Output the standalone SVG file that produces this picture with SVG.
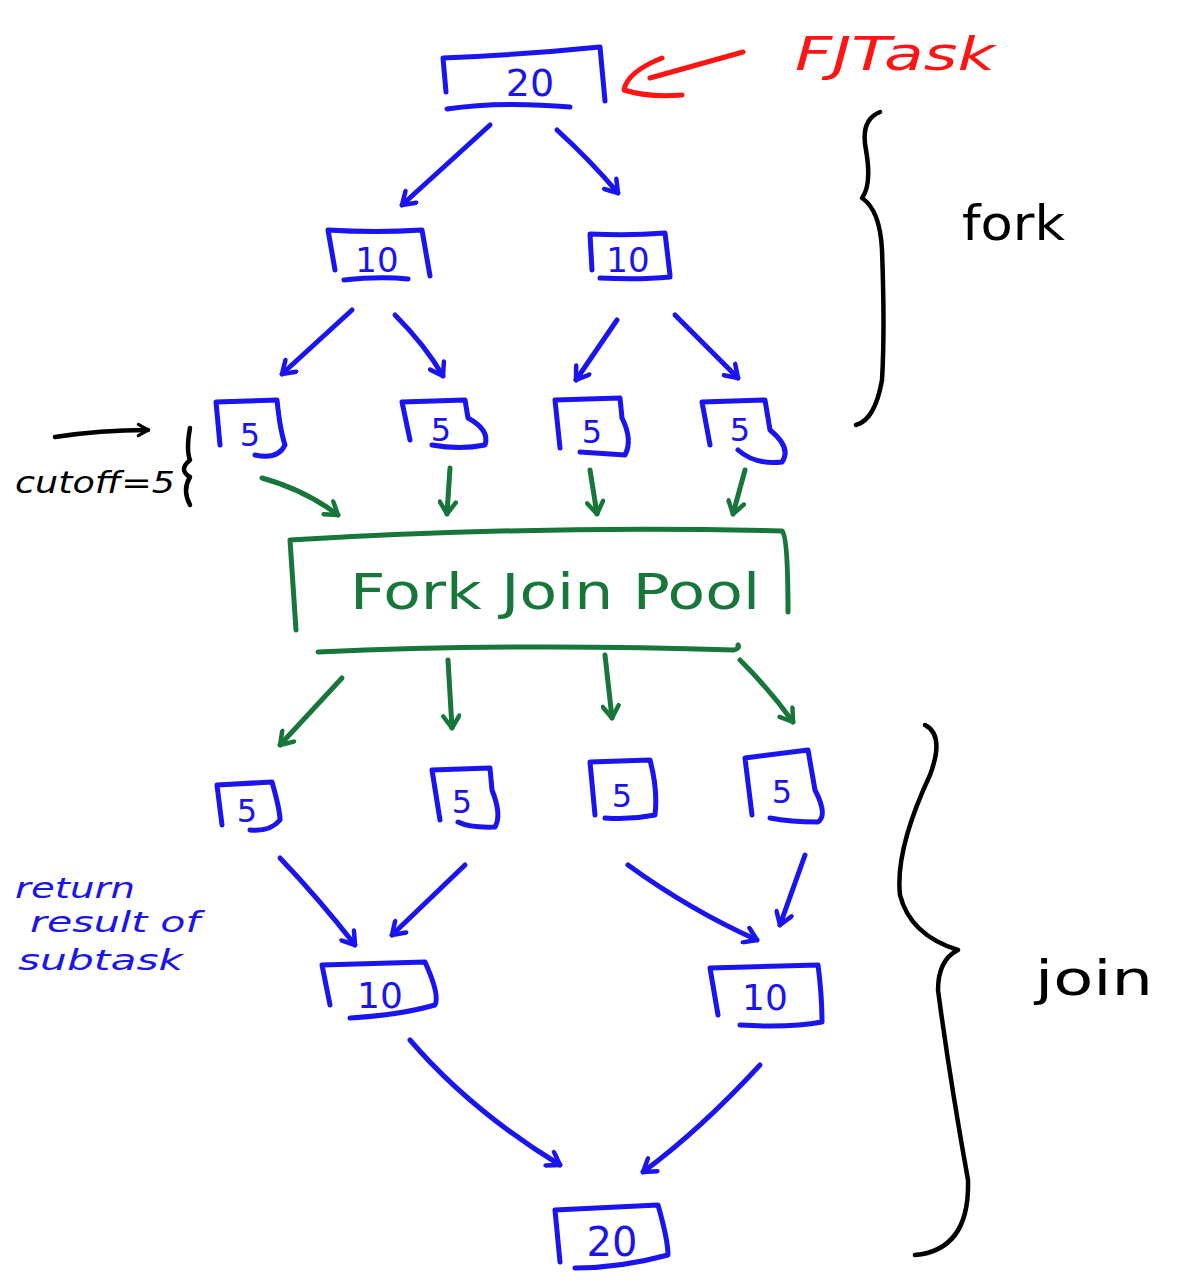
<svg xmlns="http://www.w3.org/2000/svg" width="1179" height="1283" viewBox="0 0 1179 1283">
  <style>
    .pen { fill: none; stroke-linecap: round; stroke-linejoin: round; }
    .blue { stroke: #1a14f0; stroke-width: 5; }
    .green { stroke: #17763a; stroke-width: 5; }
    .red { stroke: #ff1414; stroke-width: 5; }
    .black { stroke: #000; stroke-width: 4.5; }
    .hand { font-family: "DejaVu Sans", "Liberation Sans", sans-serif; }
    .tb { fill: #1a14f0; }
    .tg { fill: #17763a; }
    .tr { fill: #ff1414; }
    .tk { fill: #000; }
  </style>
  <defs>
    <marker id="hb" viewBox="0 0 20 20" refX="16" refY="10" markerWidth="20" markerHeight="20" markerUnits="userSpaceOnUse" orient="auto">
      <path d="M4,2 L16,10 L4,18" fill="none" stroke="#1a14f0" stroke-width="4.5" stroke-linecap="round" stroke-linejoin="round"/>
    </marker>
    <marker id="hg" viewBox="0 0 20 20" refX="16" refY="10" markerWidth="20" markerHeight="20" markerUnits="userSpaceOnUse" orient="auto">
      <path d="M4,2 L16,10 L4,18" fill="none" stroke="#17763a" stroke-width="4.5" stroke-linecap="round" stroke-linejoin="round"/>
    </marker>
    <marker id="hk" viewBox="0 0 20 20" refX="16" refY="10" markerWidth="16" markerHeight="16" markerUnits="userSpaceOnUse" orient="auto">
      <path d="M4,3 L16,10 L4,17" fill="none" stroke="#000" stroke-width="4" stroke-linecap="round" stroke-linejoin="round"/>
    </marker>
  </defs>

  <!-- connectors -->
  <g id="connectors" class="pen">
    <!-- fork: 20 -> 10, 10 -->
    <path class="blue" d="M490,125 L402,205" stroke-width="6" marker-end="url(#hb)"/>
    <path class="blue" d="M557,130 Q590,160 618,193" marker-end="url(#hb)"/>
    <!-- 10 -> 5, 5 -->
    <path class="blue" d="M352,310 L282,374" marker-end="url(#hb)"/>
    <path class="blue" d="M395,315 Q425,345 443,376" marker-end="url(#hb)"/>
    <path class="blue" d="M617,320 L576,380" marker-end="url(#hb)"/>
    <path class="blue" d="M675,315 Q710,350 738,378" marker-end="url(#hb)"/>
    <!-- 5s -> pool -->
    <path class="green" d="M262,478 Q305,490 338,515" marker-end="url(#hg)"/>
    <path class="green" d="M450,468 L447,514" marker-end="url(#hg)"/>
    <path class="green" d="M590,470 L597,514" marker-end="url(#hg)"/>
    <path class="green" d="M745,470 L733,514" marker-end="url(#hg)"/>
    <!-- pool -> 5s -->
    <path class="green" d="M342,678 L280,745" marker-end="url(#hg)"/>
    <path class="green" d="M448,660 L452,728" marker-end="url(#hg)"/>
    <path class="green" d="M605,655 L612,718" marker-end="url(#hg)"/>
    <path class="green" d="M740,660 Q770,690 793,722" marker-end="url(#hg)"/>
    <!-- join: 5s -> 10s -->
    <path class="blue" d="M280,858 Q320,900 355,945" marker-end="url(#hb)"/>
    <path class="blue" d="M465,865 L392,935" marker-end="url(#hb)"/>
    <path class="blue" d="M628,865 Q690,910 757,940" marker-end="url(#hb)"/>
    <path class="blue" d="M805,855 L780,925" marker-end="url(#hb)"/>
    <!-- 10s -> 20 -->
    <path class="blue" d="M410,1040 Q470,1110 560,1165" marker-end="url(#hb)"/>
    <path class="blue" d="M760,1065 Q700,1130 643,1172" marker-end="url(#hb)"/>
    <!-- FJTask pointer: shaft and hooked head -->
    <path class="red" d="M743,52 Q700,64 650,78"/>
    <path class="red" d="M662,58 Q627,72 624,90 Q650,98 682,95"/>
  </g>

  <!-- root task -->
  <g id="task20" class="pen">
    <path class="blue" d="M446,92 L443,58 Q520,55 600,47 L605,101"/>
    <path class="blue" d="M447,109 Q500,101 570,107"/>
    <text class="hand tb" x="530" y="96" font-size="38" text-anchor="middle">20</text>
  </g>

  <!-- FJTask label -->
  <g id="label-fjtask">
    <text class="hand tr" x="795" y="70" font-size="46" font-style="italic" textLength="200" lengthAdjust="spacingAndGlyphs">FJTask</text>
  </g>

  <!-- fork brace -->
  <g id="brace-fork" class="pen">
    <path class="black" d="M880,112 Q860,120 866,150 Q872,185 862,198 Q880,210 882,250 Q885,330 882,380 Q875,420 856,425"/>
    <text class="hand tk" x="962" y="240" font-size="48" textLength="103" lengthAdjust="spacingAndGlyphs">fork</text>
  </g>

  <!-- level 1 -->
  <g id="task10-left" class="pen">
    <path class="blue" d="M335,270 L328,230 Q375,233 422,230 L430,276"/>
    <path class="blue" d="M344,280 Q380,276 408,279"/>
    <text class="hand tb" x="377" y="272" font-size="34" text-anchor="middle">10</text>
  </g>
  <g id="task10-right" class="pen">
    <path class="blue" d="M592,270 L590,234 Q630,236 665,233 L670,275"/>
    <path class="blue" d="M600,278 Q640,280 670,277"/>
    <text class="hand tb" x="628" y="272" font-size="34" text-anchor="middle">10</text>
  </g>

  <!-- level 2 (fork leaves) -->
  <g id="task5-f1" class="pen">
    <path class="blue" d="M220,445 L216,402 L277,400 Q280,430 285,445 Q278,460 255,455"/>
    <text class="hand tb" x="250" y="446" font-size="32" text-anchor="middle">5</text>
  </g>
  <g id="task5-f2" class="pen">
    <path class="blue" d="M410,440 L402,402 L465,400 L468,418 Q490,430 485,445 Q460,450 432,445"/>
    <text class="hand tb" x="441" y="441" font-size="32" text-anchor="middle">5</text>
  </g>
  <g id="task5-f3" class="pen">
    <path class="blue" d="M560,448 L555,400 L620,398 L622,418 Q633,440 625,455 L580,452"/>
    <text class="hand tb" x="592" y="443" font-size="32" text-anchor="middle">5</text>
  </g>
  <g id="task5-f4" class="pen">
    <path class="blue" d="M710,445 L702,402 L765,400 L770,430 Q792,448 782,462 Q755,465 738,450"/>
    <text class="hand tb" x="740" y="441" font-size="32" text-anchor="middle">5</text>
  </g>

  <!-- cutoff note -->
  <g id="label-cutoff" class="pen">
    <path class="black" d="M55,437 Q100,430 148,430" marker-end="url(#hk)"/>
    <path class="black" d="M190,428 Q186,450 190,460 Q178,470 190,477 Q182,490 190,505"/>
    <text class="hand tk" x="15" y="493" font-size="30" font-style="italic" textLength="160" lengthAdjust="spacingAndGlyphs">cutoff=5</text>
  </g>

  <!-- pool -->
  <g id="fork-join-pool" class="pen">
    <path class="green" d="M296,630 L290,540 Q540,525 782,531 Q788,536 788,612"/>
    <path class="green" d="M318,652 Q520,643 734,650 Q740,648 738,645"/>
    <text class="hand tg" x="555" y="609" font-size="50" text-anchor="middle" textLength="410" lengthAdjust="spacingAndGlyphs">Fork Join Pool</text>
  </g>

  <!-- level 3 (join leaves) -->
  <g id="task5-j1" class="pen">
    <path class="blue" d="M222,825 L217,785 L272,782 Q280,810 280,820 Q270,832 250,830"/>
    <text class="hand tb" x="247" y="822" font-size="32" text-anchor="middle">5</text>
  </g>
  <g id="task5-j2" class="pen">
    <path class="blue" d="M440,820 L432,770 L490,768 L492,790 Q502,815 495,827 Q470,828 458,822"/>
    <text class="hand tb" x="462" y="813" font-size="32" text-anchor="middle">5</text>
  </g>
  <g id="task5-j3" class="pen">
    <path class="blue" d="M595,815 L590,762 L650,760 Q658,790 655,815 Q630,820 605,818"/>
    <text class="hand tb" x="622" y="807" font-size="32" text-anchor="middle">5</text>
  </g>
  <g id="task5-j4" class="pen">
    <path class="blue" d="M752,815 L745,758 L808,750 L815,790 Q828,815 818,822 Q790,822 770,818"/>
    <text class="hand tb" x="782" y="803" font-size="32" text-anchor="middle">5</text>
  </g>

  <!-- return note -->
  <g id="label-return">
    <text class="hand tb" font-size="28" font-style="italic">
      <tspan x="15" y="898" textLength="120" lengthAdjust="spacingAndGlyphs">return</tspan>
      <tspan x="30" y="932" textLength="170" lengthAdjust="spacingAndGlyphs">result of</tspan>
      <tspan x="18" y="970" textLength="165" lengthAdjust="spacingAndGlyphs">subtask</tspan>
    </text>
  </g>

  <!-- level 4 -->
  <g id="task10-join-left" class="pen">
    <path class="blue" d="M330,1005 L322,965 L425,962 Q440,995 435,1005 Q400,1015 350,1018"/>
    <text class="hand tb" x="380" y="1008" font-size="36" text-anchor="middle">10</text>
  </g>
  <g id="task10-join-right" class="pen">
    <path class="blue" d="M718,1015 L710,968 L818,965 Q822,995 822,1022 Q790,1028 740,1025"/>
    <text class="hand tb" x="765" y="1010" font-size="36" text-anchor="middle">10</text>
  </g>

  <!-- result -->
  <g id="task20-result" class="pen">
    <path class="blue" d="M560,1262 L555,1210 L658,1205 Q668,1240 668,1255 Q620,1268 575,1268"/>
    <text class="hand tb" x="612" y="1256" font-size="40" text-anchor="middle">20</text>
  </g>

  <!-- join brace -->
  <g id="brace-join" class="pen">
    <path class="black" d="M925,725 Q945,735 930,775 Q895,850 900,895 Q910,935 958,950 Q938,960 938,990 Q950,1080 968,1180 Q970,1250 915,1255"/>
    <text class="hand tk" x="1035" y="995" font-size="48" textLength="118" lengthAdjust="spacingAndGlyphs">join</text>
  </g>
</svg>
